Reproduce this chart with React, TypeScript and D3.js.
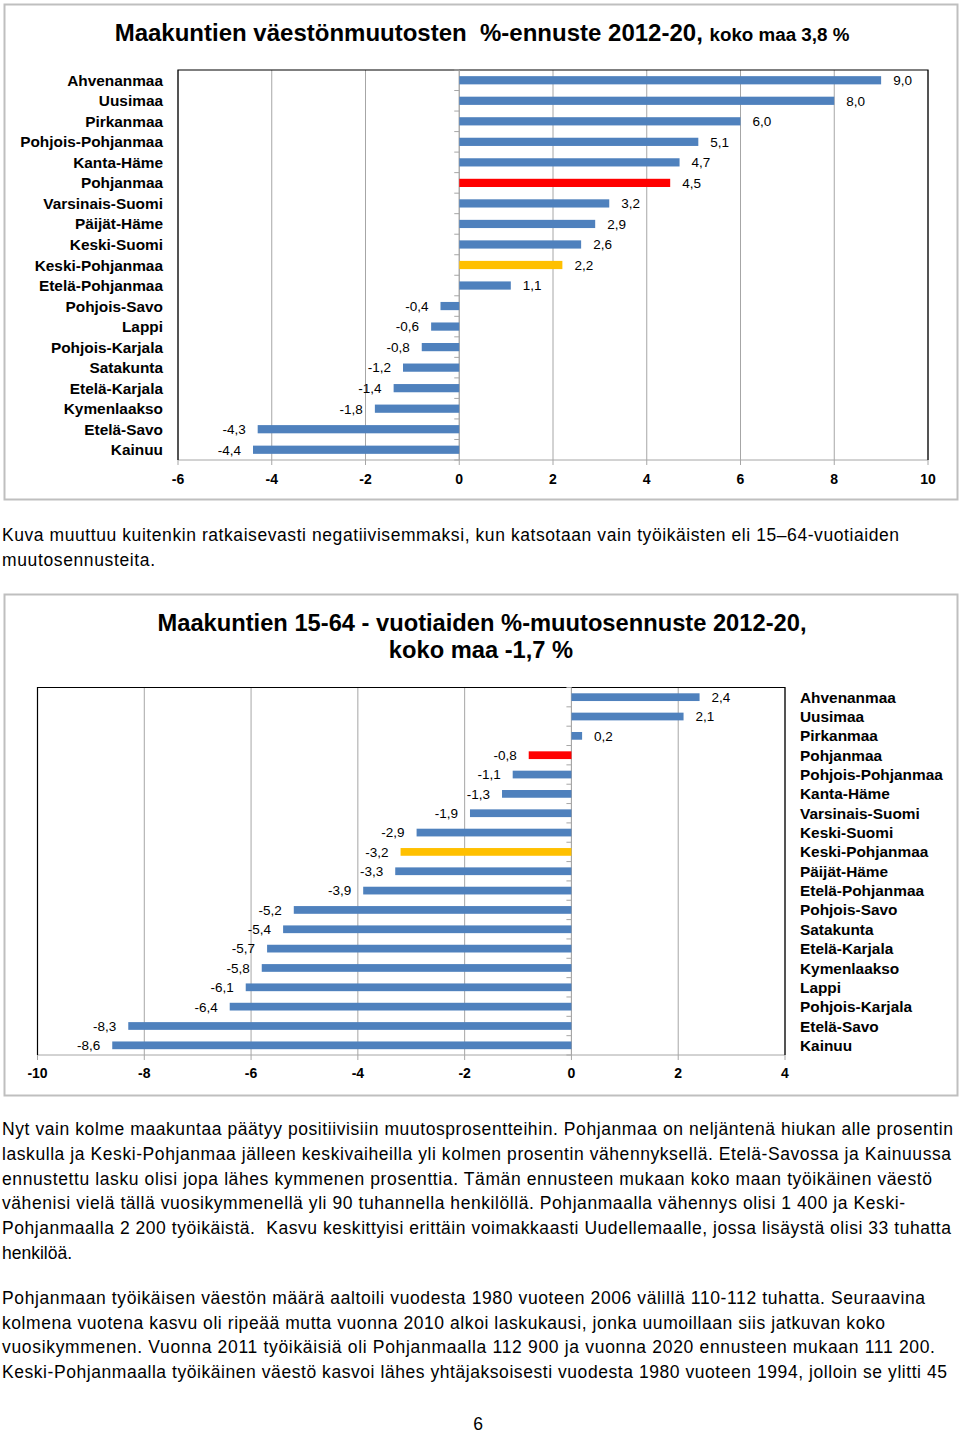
import React from "react";
import * as d3 from "d3";

// ---------- Chart 1 data ----------
const regions1 = [
  "Ahvenanmaa", "Uusimaa", "Pirkanmaa", "Pohjois-Pohjanmaa", "Kanta-Häme", "Pohjanmaa",
  "Varsinais-Suomi", "Päijät-Häme", "Keski-Suomi", "Keski-Pohjanmaa", "Etelä-Pohjanmaa",
  "Pohjois-Savo", "Lappi", "Pohjois-Karjala", "Satakunta", "Etelä-Karjala", "Kymenlaakso",
  "Etelä-Savo", "Kainuu",
];
const values1 = [9.0, 8.0, 6.0, 5.1, 4.7, 4.5, 3.2, 2.9, 2.6, 2.2, 1.1, -0.4, -0.6, -0.8, -1.2, -1.4, -1.8, -4.3, -4.4];
const ticks1 = [-6, -4, -2, 0, 2, 4, 6, 8, 10];

// ---------- Chart 2 data ----------
const regions2 = [
  "Ahvenanmaa", "Uusimaa", "Pirkanmaa", "Pohjanmaa", "Pohjois-Pohjanmaa", "Kanta-Häme",
  "Varsinais-Suomi", "Keski-Suomi", "Keski-Pohjanmaa", "Päijät-Häme", "Etelä-Pohjanmaa",
  "Pohjois-Savo", "Satakunta", "Etelä-Karjala", "Kymenlaakso", "Lappi", "Pohjois-Karjala",
  "Etelä-Savo", "Kainuu",
];
const values2 = [2.4, 2.1, 0.2, -0.8, -1.1, -1.3, -1.9, -2.9, -3.2, -3.3, -3.9, -5.2, -5.4, -5.7, -5.8, -6.1, -6.4, -8.3, -8.6];
const ticks2 = [-10, -8, -6, -4, -2, 0, 2, 4];

const highlightRed = "Pohjanmaa";
const highlightYellow = "Keski-Pohjanmaa";

// ---------- Text ----------
const midText = [
  "Kuva muuttuu kuitenkin ratkaisevasti negatiivisemmaksi, kun katsotaan vain työikäisten eli 15–64-vuotiaiden",
  "muutosennusteita.",
];
const para1 = [
  "Nyt vain kolme maakuntaa päätyy positiivisiin muutosprosentteihin. Pohjanmaa on neljäntenä hiukan alle prosentin",
  "laskulla ja Keski-Pohjanmaa jälleen keskivaiheilla yli kolmen prosentin vähennyksellä. Etelä-Savossa ja Kainuussa",
  "ennustettu lasku olisi jopa lähes kymmenen prosenttia. Tämän ennusteen mukaan koko maan työikäinen väestö",
  "vähenisi vielä tällä vuosikymmenellä yli 90 tuhannella henkilöllä. Pohjanmaalla vähennys olisi 1 400 ja Keski-",
  "Pohjanmaalla 2 200 työikäistä.  Kasvu keskittyisi erittäin voimakkaasti Uudellemaalle, jossa lisäystä olisi 33 tuhatta",
  "henkilöä.",
];
const para2 = [
  "Pohjanmaan työikäisen väestön määrä aaltoili vuodesta 1980 vuoteen 2006 välillä 110-112 tuhatta. Seuraavina",
  "kolmena vuotena kasvu oli ripeää mutta vuonna 2010 alkoi laskukausi, jonka uumoillaan siis jatkuvan koko",
  "vuosikymmenen. Vuonna 2011 työikäisiä oli Pohjanmaalla 112 900 ja vuonna 2020 ennusteen mukaan 111 200.",
  "Keski-Pohjanmaalla työikäinen väestö kasvoi lähes yhtäjaksoisesti vuodesta 1980 vuoteen 1994, jolloin se ylitti 45",
];
const midWidths = [897, 153];
const para1Widths = [951, 949, 930, 903, 949, 0];
const para2Widths = [923, 883, 933, 945];

const FONT = "'Liberation Sans', Arial, Helvetica, sans-serif";
const BLUE = "#4F81BD";
const RED = "#FF0000";
const YELLOW = "#FFC000";
const GRID = "#a6a6a6";

const fmt = (v: number) => v.toFixed(1).replace(".", ",");

function barColor(name: string) {
  if (name === highlightRed) return RED;
  if (name === highlightYellow) return YELLOW;
  return BLUE;
}

type BarChartProps = {
  regions: string[];
  values: number[];
  ticks: number[];
  x0: number;
  x1: number;
  y0: number;
  y1: number;
  labelSide: "left" | "right";
  labelX: number;
  tickLabelY: number;
};

function BarChart({ regions, values, ticks, x0, x1, y0, y1, labelSide, labelX, tickLabelY }: BarChartProps) {
  const x = d3.scaleLinear().domain([ticks[0], ticks[ticks.length - 1]]).range([x0, x1]);
  const y = d3.scaleBand<string>().domain(regions).range([y0, y1]).paddingInner(0.6).paddingOuter(0.3);
  const zx = x(0);
  const step = y.step();
  const boundaries = d3.range(regions.length + 1).map((i) => y0 + i * step);
  return (
    <g>
      {ticks.map((t) => (
        <line key={"g" + t} x1={x(t)} x2={x(t)} y1={y0} y2={y1} stroke={GRID} strokeWidth={1} />
      ))}
      <line x1={x0} x2={x1} y1={y1} y2={y1} stroke={GRID} strokeWidth={1} />
      {ticks.map((t) => (
        <line key={"t" + t} x1={x(t)} x2={x(t)} y1={y1} y2={y1 + 5} stroke={GRID} strokeWidth={1} />
      ))}
      <path d={`M${x0},${y1}V${y0}H${x1}V${y1}`} fill="none" stroke="#000" strokeWidth={1.2} />
      <line x1={zx} x2={zx} y1={y0} y2={y1} stroke={GRID} strokeWidth={1} />
      {boundaries.map((b, i) => (
        <line key={"c" + i} x1={zx - 5} x2={zx} y1={b} y2={b} stroke={GRID} strokeWidth={1} />
      ))}
      {regions.map((r, i) => {
        const v = values[i];
        const bx = Math.min(x(v), zx);
        const bw = Math.abs(x(v) - zx);
        return <rect key={"b" + r} x={bx} y={y(r)} width={bw} height={y.bandwidth()} fill={barColor(r)} />;
      })}
      {regions.map((r, i) => {
        const v = values[i];
        const cy = (y(r) as number) + y.bandwidth() / 2;
        const pos = v >= 0;
        return (
          <text
            key={"l" + r}
            x={pos ? x(v) + 12 : x(v) - 12}
            y={cy}
            dy="0.36em"
            textAnchor={pos ? "start" : "end"}
            fontSize={13.5}
            fontFamily={FONT}
            fill="#000"
          >
            {fmt(v)}
          </text>
        );
      })}
      {regions.map((r) => (
        <text
          key={"n" + r}
          x={labelX}
          y={(y(r) as number) + y.bandwidth() / 2}
          dy="0.36em"
          textAnchor={labelSide === "left" ? "end" : "start"}
          fontSize={15.4}
          fontWeight="bold"
          fontFamily={FONT}
          fill="#000"
        >
          {r}
        </text>
      ))}
      {ticks.map((t) => (
        <text
          key={"tl" + t}
          x={x(t)}
          y={tickLabelY}
          dy="0.36em"
          textAnchor="middle"
          fontSize={14}
          fontWeight="bold"
          fontFamily={FONT}
          fill="#000"
        >
          {String(t)}
        </text>
      ))}
    </g>
  );
}

function TextLines({ lines, widths, startY, lineH }: { lines: string[]; widths: number[]; startY: number; lineH: number }) {
  return (
    <g>
      {lines.map((l, i) => (
        <text
          key={i}
          x={2}
          y={startY + i * lineH}
          fontSize={17.5}
          fontFamily={FONT}
          fill="#000"
          style={{ whiteSpace: "pre" }}
          {...(widths[i] ? { textLength: widths[i], lengthAdjust: "spacing" } : {})}
        >
          {l}
        </text>
      ))}
    </g>
  );
}

export default function App() {
  return (
    <svg
      width={960}
      height={1434}
      style={{ position: "absolute", left: 0, top: 0, display: "block", background: "#fff" }}
    >
      <rect x={0} y={0} width={960} height={1434} fill="#fff" />
      <rect x={4.5} y={4.5} width={953} height={495} fill="#fff" stroke="#bfbfbf" strokeWidth={2} />
      <text x={482} y={41} textAnchor="middle" fontFamily={FONT} fontWeight="bold" fill="#000" style={{ whiteSpace: "pre" }}>
        <tspan fontSize={24}>{"Maakuntien väestönmuutosten  %-ennuste 2012-20, "}</tspan>
        <tspan fontSize={18.8}>{"koko maa 3,8 %"}</tspan>
      </text>
      <BarChart
        regions={regions1}
        values={values1}
        ticks={ticks1}
        x0={178}
        x1={928}
        y0={70}
        y1={460}
        labelSide="left"
        labelX={163}
        tickLabelY={479}
      />

      <TextLines lines={midText} widths={midWidths} startY={541} lineH={24.5} />

      <rect x={4.5} y={594.5} width={953} height={501} fill="#fff" stroke="#bfbfbf" strokeWidth={2} />
      <text x={482} y={631} textAnchor="middle" fontFamily={FONT} fontWeight="bold" fontSize={23.7} fill="#000">
        Maakuntien 15-64 - vuotiaiden %-muutosennuste 2012-20,
      </text>
      <text x={481} y={658} textAnchor="middle" fontFamily={FONT} fontWeight="bold" fontSize={23.7} fill="#000">
        koko maa -1,7 %
      </text>
      <BarChart
        regions={regions2}
        values={values2}
        ticks={ticks2}
        x0={37.5}
        x1={785}
        y0={687.5}
        y1={1055}
        labelSide="right"
        labelX={800}
        tickLabelY={1073}
      />

      <TextLines lines={para1} widths={para1Widths} startY={1135} lineH={24.8} />
      <TextLines lines={para2} widths={para2Widths} startY={1304} lineH={24.7} />

      <text x={478} y={1430} textAnchor="middle" fontSize={17.5} fontFamily={FONT} fill="#000">
        6
      </text>
    </svg>
  );
}
